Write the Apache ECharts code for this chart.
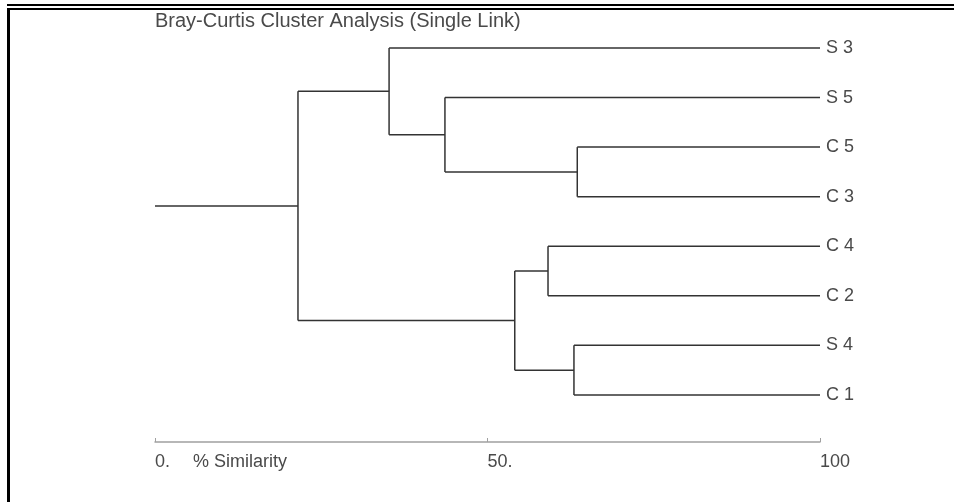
<!DOCTYPE html>
<html>
<head>
<meta charset="utf-8">
<script src="https://cdn.jsdelivr.net/npm/echarts@6/dist/echarts.min.js"></script>
<style>
  html, body { margin: 0; padding: 0; background: #fff; }
  #chart { width: 954px; height: 502px; }
</style>
</head>
<body>
<div id="chart"></div>
<script>
// Leaf order, top to bottom
const leaves = ['S 3', 'S 5', 'C 5', 'C 3', 'C 4', 'C 2', 'S 4', 'C 1'];

// Joins: [left child, right child, % similarity]; a child is a leaf name or the index of an earlier join
const joins = [
  ['C 5', 'C 3', 63.5],
  ['S 5', 0, 43.6],
  ['S 3', 1, 35.2],
  ['C 4', 'C 2', 59.1],
  ['S 4', 'C 1', 63.0],
  [3, 4, 54.1],
  [2, 5, 21.5]
];

// Similarity scale ticks
const xTicks = [0, 50, 100];
const xTickLabels = ['0.', '50.', '100'];
const xAxisTitle = '% Similarity';

// Build dendrogram segments in data coordinates
const segments = [];
const nodePos = [];
function childPos(c) {
  if (typeof c === 'string') return { x: 100, y: leaves.indexOf(c) };
  return nodePos[c];
}
joins.forEach(function (j) {
  const a = childPos(j[0]);
  const b = childPos(j[1]);
  const s = j[2];
  segments.push([a.x, a.y, s, a.y]);
  segments.push([b.x, b.y, s, b.y]);
  segments.push([s, a.y, s, b.y]);
  nodePos.push({ x: s, y: (a.y + b.y) / 2 });
});
const root = nodePos[nodePos.length - 1];
segments.push([0, root.y, root.x, root.y]);

const chart = echarts.init(document.getElementById('chart'), null, { renderer: 'canvas' });

const textColor = '#4a4a4a';
const fontFamily = 'Liberation Sans, Arial, sans-serif';
const labelSize = 18;

chart.setOption({
  animation: false,
  backgroundColor: '#ffffff',
  grid: { left: 155, right: 134, top: 48, bottom: 60, containLabel: false },
  xAxis: {
    type: 'value',
    position: 'bottom',
    min: 0,
    max: 100,
    interval: 50,
    splitLine: { show: false },
    axisLine: { show: true, onZero: false, lineStyle: { color: '#a0a0a0', width: 1.5 } },
    axisTick: { show: true, inside: true, length: 4, lineStyle: { color: '#a0a0a0', width: 1 } },
    axisLabel: {
      margin: 11,
      align: 'left',
      color: textColor,
      fontFamily: fontFamily,
      fontSize: labelSize,
      formatter: function (v) {
        const i = xTicks.indexOf(v);
        if (i < 0) return '';
        return i === 0 ? '{a|' + xTickLabels[i] + '}{b|' + xAxisTitle + '}' : xTickLabels[i];
      },
      rich: {
        a: { color: textColor, fontFamily: fontFamily, fontSize: labelSize },
        b: { color: textColor, fontFamily: fontFamily, fontSize: labelSize, padding: [0, 0, 0, 23] }
      }
    }
  },
  yAxis: {
    type: 'value',
    min: 0,
    max: 7.95,
    interval: 1,
    inverse: true,
    position: 'right',
    splitLine: { show: false },
    axisLine: { show: false },
    axisTick: { show: false },
    axisLabel: {
      margin: 6,
      color: textColor,
      fontFamily: fontFamily,
      fontSize: labelSize,
      formatter: function (v) {
        return Number.isInteger(v) && leaves[v] ? leaves[v] : '';
      }
    }
  },
  series: [{
    type: 'custom',
    data: segments,
    encode: { x: [0, 2], y: [1, 3] },
    renderItem: function (params, api) {
      const p1 = api.coord([api.value(0), api.value(1)]);
      const p2 = api.coord([api.value(2), api.value(3)]);
      return {
        type: 'line',
        shape: { x1: p1[0], y1: p1[1], x2: p2[0], y2: p2[1] },
        style: { stroke: '#333333', lineWidth: 1.5 }
      };
    }
  }],
  graphic: [
    { type: 'text', left: 155, top: 11, style: { text: 'Bray-Curtis Cluster Analysis (Single Link)', fill: textColor, font: '20px ' + fontFamily } },
    { type: 'rect', shape: { x: 7, y: 4, width: 947, height: 2 }, style: { fill: '#000' } },
    { type: 'rect', shape: { x: 7, y: 8, width: 947, height: 2 }, style: { fill: '#000' } },
    { type: 'rect', shape: { x: 7, y: 8, width: 3, height: 494 }, style: { fill: '#000' } }
  ]
});
</script>
</body>
</html>
